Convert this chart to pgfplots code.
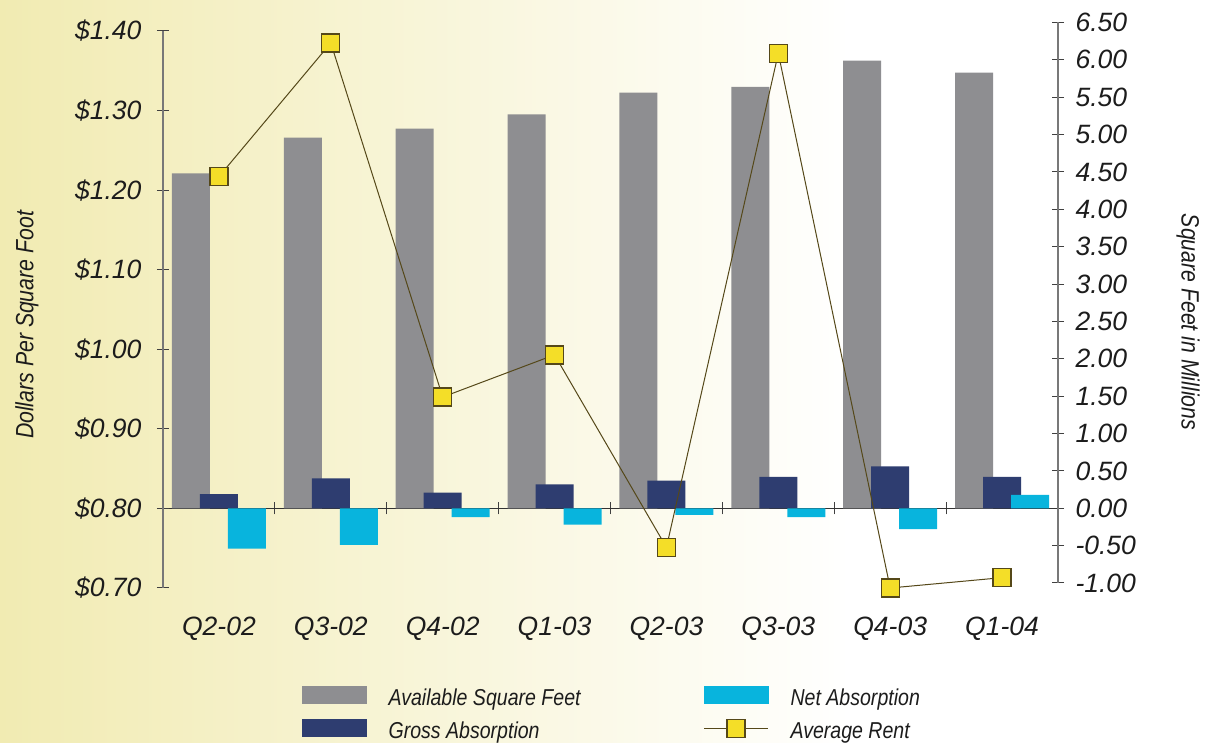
\documentclass[border=0pt]{standalone}
\usepackage{pgfplots}
\pgfplotsset{compat=1.18}
\usepackage{fontspec}
\setmainfont{Liberation Sans}
\newfontfamily\condfont[FakeStretch=0.85]{Liberation Sans}
\definecolor{bgyellow}{RGB}{241,235,178}
\definecolor{availgray}{RGB}{142,142,145}
\definecolor{grossnavy}{RGB}{46,61,112}
\definecolor{netcyan}{RGB}{8,180,221}
\definecolor{rentyellow}{RGB}{244,222,40}
\definecolor{rentedge}{RGB}{85,72,25}
\definecolor{axisgray}{RGB}{120,120,120}
\definecolor{labelgray}{RGB}{28,28,28}
\newcommand{\tickfont}{\fontsize{26.5}{31}\selectfont\itshape}
\newcommand{\titlefont}{\condfont\fontsize{25}{30}\selectfont\itshape}
\newcommand{\legfont}{\condfont\fontsize{23}{27}\selectfont\itshape}
\pgfplotsset{rentlegend/.style={legend image code/.code={\draw[mark repeat=2,mark phase=2,##1] plot coordinates {(0pt,4.5pt) (32pt,4.5pt) (64pt,4.5pt)};}}}
\begin{document}
\begin{tikzpicture}[x=1pt,y=1pt]
\useasboundingbox (0,0) rectangle (1211,743);
\shade[left color=bgyellow, right color=white] (0,0) rectangle (850,743);
\fill[white] (849.5,0) rectangle (1211,743);

% bars on the right axis
\begin{axis}[
  at={(163pt,160pt)}, anchor=south west,
  scale only axis, width=895pt, height=560.5pt,
  xmin=0, xmax=8, ymin=-1, ymax=6.5,
  axis x line=middle, axis y line*=right,
  axis line style={-, line width=1.2pt},
  x axis line style={draw=black!80},
  y axis line style={draw=axisgray},
  xtick={0,1,2,3,4,5,6,7,8}, xticklabels={},
  ytick={-1,-0.5,0,0.5,1,1.5,2,2.5,3,3.5,4,4.5,5,5.5,6,6.5},
  yticklabels={-1.00,-0.50,0.00,0.50,1.00,1.50,2.00,2.50,3.00,3.50,4.00,4.50,5.00,5.50,6.00,6.50},
  tick align=center, major tick length=12pt,
  tick style={draw=black!75, line width=1pt},
  yticklabel style={font=\tickfont, text=labelgray, anchor=west, xshift=8pt},
]
\addplot[ybar, bar width=38pt, bar shift=-28pt, fill=availgray, draw=none]
  coordinates {(0.5,4.48) (1.5,4.96) (2.5,5.08) (3.5,5.27) (4.5,5.56) (5.5,5.64) (6.5,5.99) (7.5,5.83)};
\addplot[ybar, bar width=38pt, bar shift=0pt, fill=grossnavy, draw=none]
  coordinates {(0.5,0.19) (1.5,0.40) (2.5,0.21) (3.5,0.32) (4.5,0.37) (5.5,0.42) (6.5,0.56) (7.5,0.42)};
\addplot[ybar, bar width=38pt, bar shift=28pt, fill=netcyan, draw=none]
  coordinates {(0.5,-0.54) (1.5,-0.49) (2.5,-0.12) (3.5,-0.22) (4.5,-0.09) (5.5,-0.12) (6.5,-0.28) (7.5,0.18)};
\end{axis}

% rent on the left axis
\begin{axis}[
  at={(163pt,155pt)}, anchor=south west,
  scale only axis, width=895pt, height=557pt,
  xmin=0, xmax=8, ymin=0.7, ymax=1.4,
  axis y line*=left, axis x line*=bottom,
  axis line style={-, line width=1.2pt},
  x axis line style={draw=none},
  y axis line style={draw=axisgray},
  xtick={0.5,1.5,2.5,3.5,4.5,5.5,6.5,7.5},
  xticklabels={Q2-02,Q3-02,Q4-02,Q1-03,Q2-03,Q3-03,Q4-03,Q1-04},
  x tick style={draw=none},
  ytick={0.7,0.8,0.9,1.0,1.1,1.2,1.3,1.4},
  yticklabels={\$0.70,\$0.80,\$0.90,\$1.00,\$1.10,\$1.20,\$1.30,\$1.40},
  tick align=center, major tick length=12pt,
  y tick style={draw=black!75, line width=1pt},
  yticklabel style={font=\tickfont, text=labelgray, xshift=-12pt},
  xticklabel style={font=\tickfont, text=labelgray, anchor=center, yshift=-35pt},
  clip=false,
  legend columns=2, legend cell align=left,
  legend style={at={(axis description cs:0.1553,-0.176)}, anchor=north west,
    draw=none, fill=none, inner sep=0pt, font=\legfont, text=labelgray,
    nodes={inner sep=0pt, text height=17pt, text depth=5pt},
    row sep=8.5pt,
    /tikz/every odd column/.append style={column sep=22pt},
    /tikz/every even column/.append style={column sep=123pt}},
]
\addlegendimage{legend image code/.code={\fill[availgray] (0pt,-3.75pt) rectangle (64pt,13.25pt);}}
\addlegendentry{Available Square Feet}
\addlegendimage{legend image code/.code={\fill[netcyan] (0pt,-3.75pt) rectangle (64pt,13.25pt);}}
\addlegendentry{Net Absorption}
\addlegendimage{legend image code/.code={\fill[grossnavy] (0pt,-3.75pt) rectangle (64pt,13.25pt);}}
\addlegendentry{Gross Absorption}
\addplot[color=rentedge, line width=1pt, mark=square*, mark size=9pt,
  mark options={fill=rentyellow, draw=rentedge, line width=1.3pt}, rentlegend]
  coordinates {(0.5,1.217) (1.5,1.385) (2.5,0.940) (3.5,0.993) (4.5,0.751) (5.5,1.372) (6.5,0.700) (7.5,0.713)};
\addlegendentry{Average Rent}
\end{axis}

\node[rotate=90, font=\titlefont, text=labelgray] at (27,418) {Dollars Per Square Foot};
\node[rotate=-90, font=\titlefont, text=labelgray] at (1188,421) {Square Feet in Millions};
\end{tikzpicture}
\end{document}
